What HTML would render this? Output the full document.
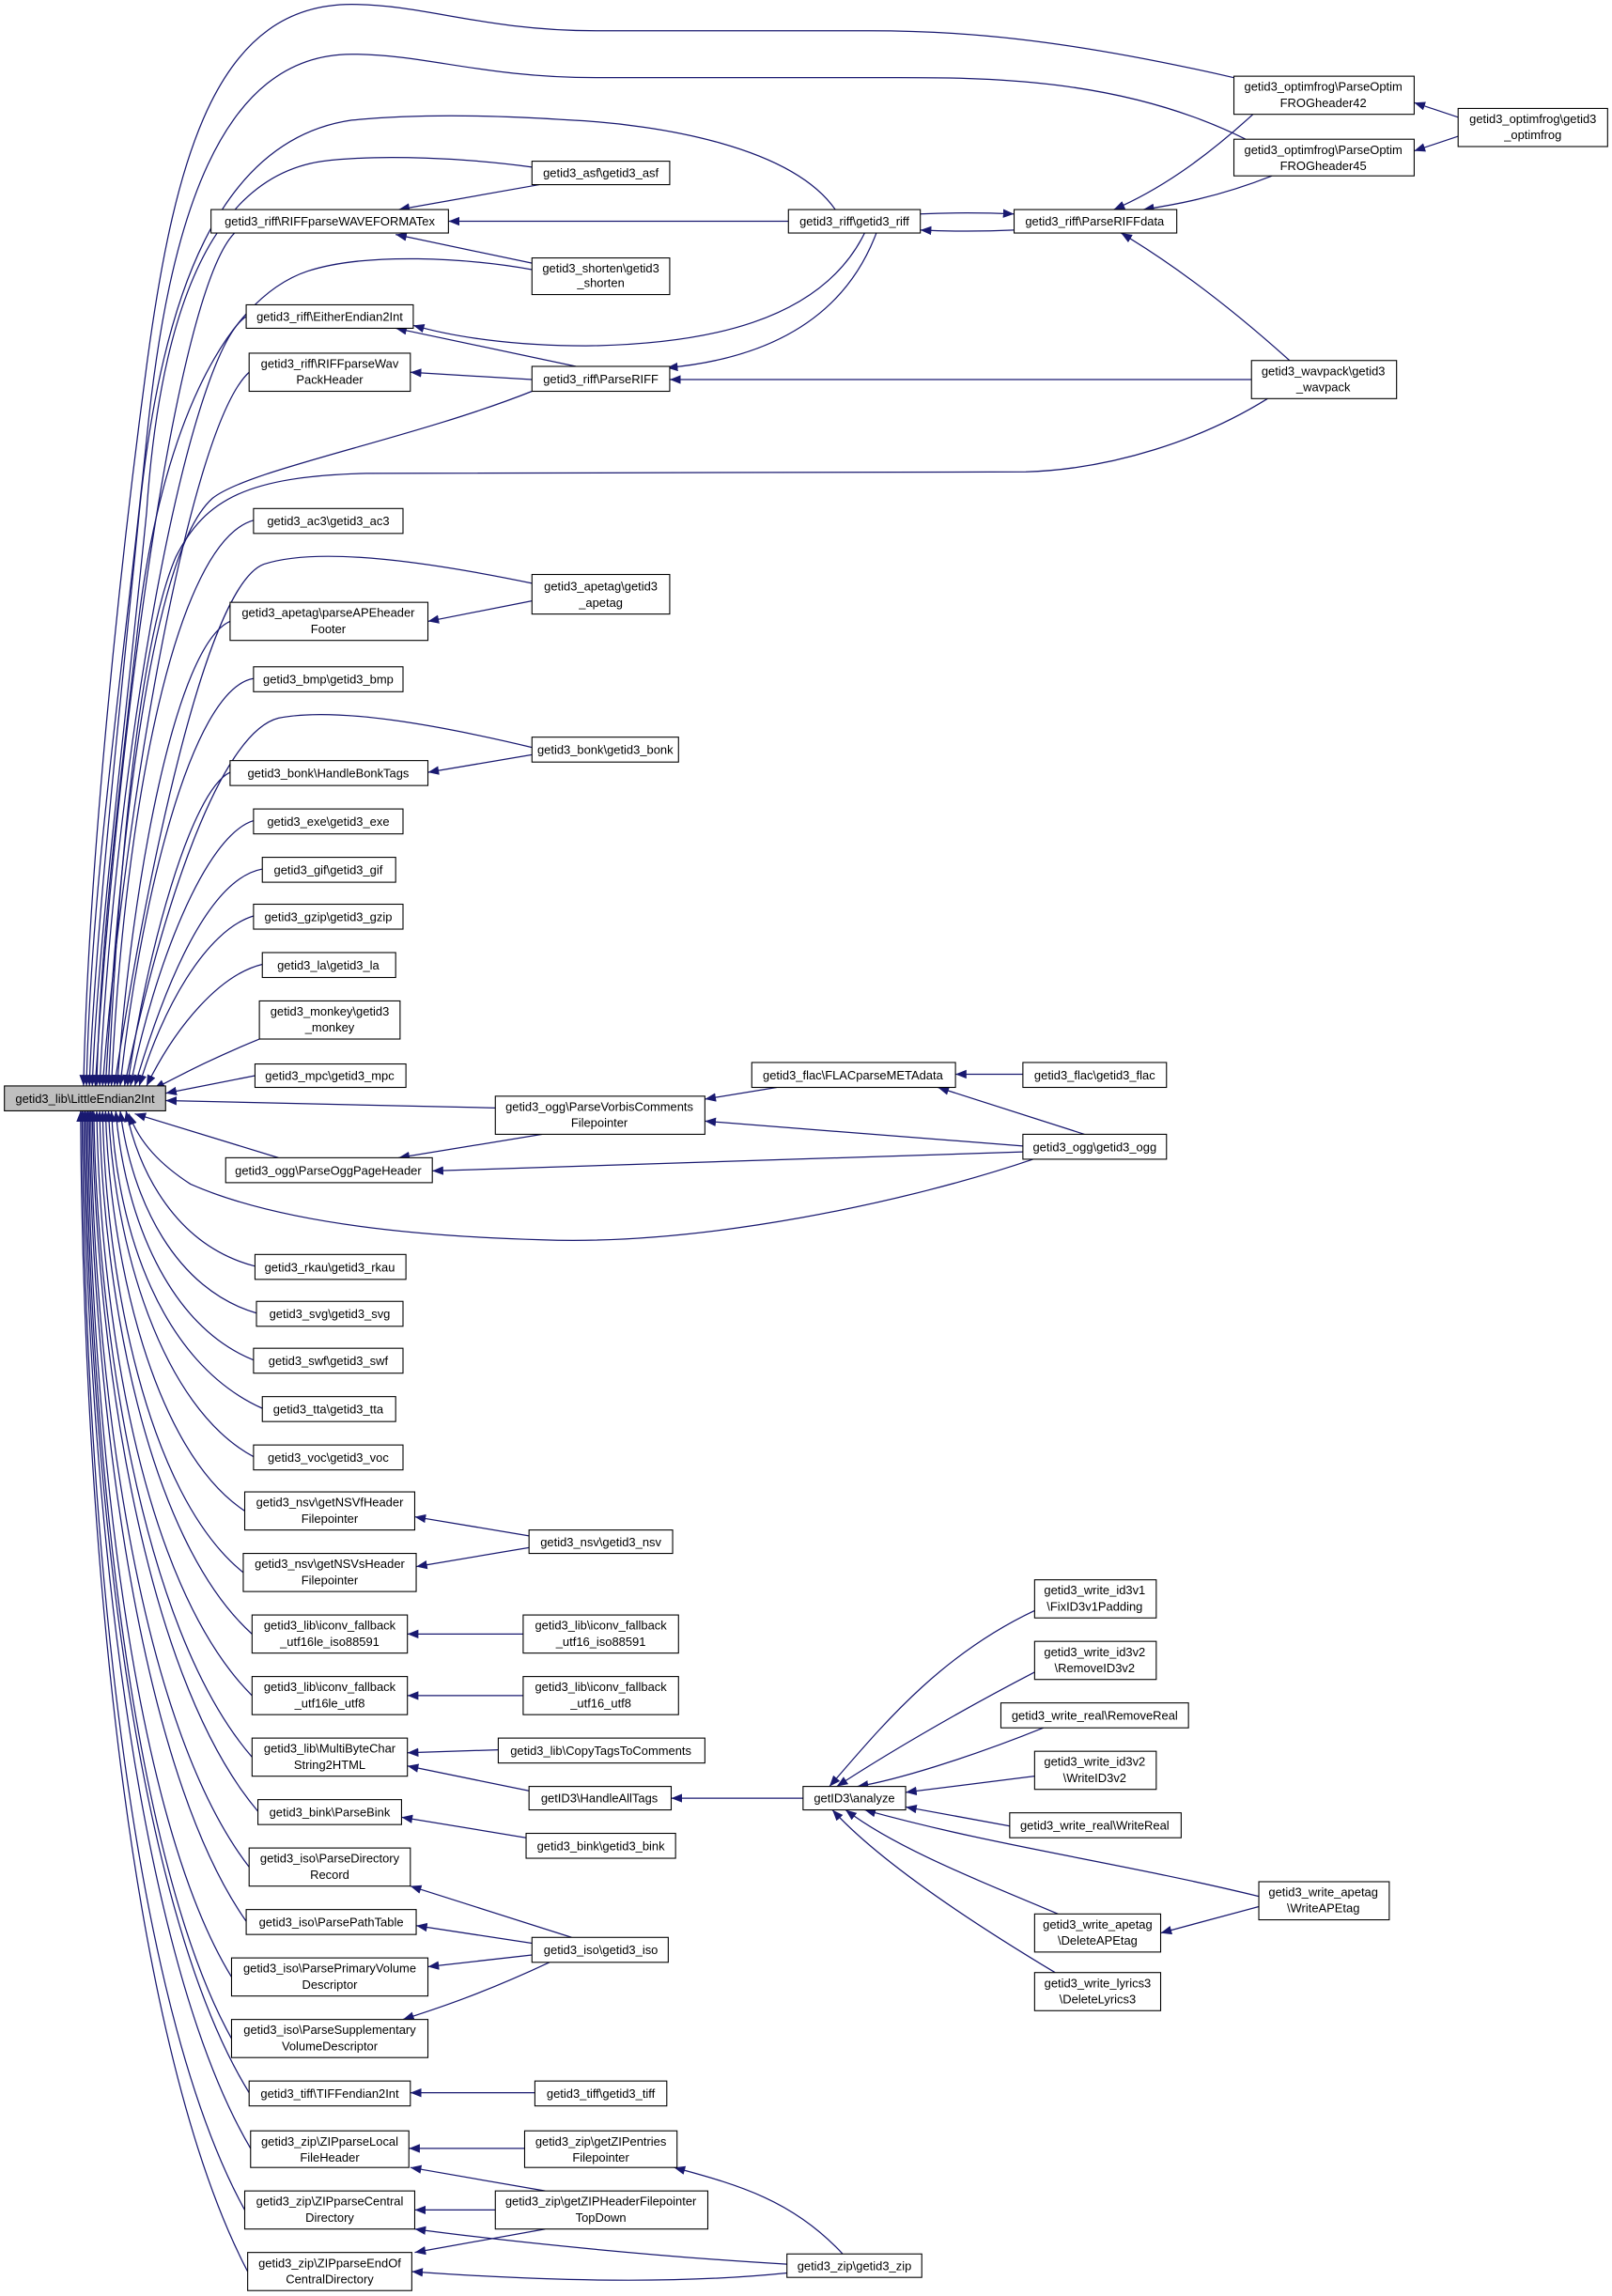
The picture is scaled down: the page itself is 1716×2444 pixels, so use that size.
<!DOCTYPE html>
<html><head><meta charset="utf-8"><style>html,body{margin:0;padding:0;background:#fff}svg{display:block}text{font-family:"Liberation Sans",sans-serif;font-size:8.3px;fill:#000;text-anchor:middle}</style></head>
<body>
<svg width="1716" height="2444" viewBox="0 0 1100 1566.7" preserveAspectRatio="none" xmlns="http://www.w3.org/2000/svg">
<defs><marker id="a" markerUnits="userSpaceOnUse" markerWidth="8" markerHeight="7" refX="7.5" refY="3" orient="auto"><path d="M0,0 L7.5,3 L0,6 z" fill="#191970"/></marker></defs>
<g fill="none" stroke="#191970" stroke-width="0.8" marker-end="url(#a)">
<!-- to main, above -->
<path d="M842,53 C720,25 650,21 593,21 L407,21 C330,21 290,3 240,3 C150,3 120,100 100,250 C80,400 60,600 57,741"/>
<path d="M850,95 C760,50 660,53 593,53 L407,53 C330,53 290,37 240,37 C150,37 115,150 100,300 C85,450 62,600 59,741"/>
<path d="M570,143 C540,100 450,85 390,82 C330,78 280,78 240,82 C150,95 110,200 95,350 C80,500 64,650 61,741"/>
<path d="M363,114 C320,108 260,105 220,110 C150,120 110,200 100,350 C85,500 66,650 63,741"/>
<path d="M160,159 C120,200 80,500 65,741"/>
<path d="M363,184 C320,176 250,172 210,185 C150,205 110,300 95,420 C80,550 68,650 66,741"/>
<path d="M168,216 C130,240 80,500 68,741"/>
<path d="M170,254 C130,290 85,550 70,741"/>
<path d="M363,267 C280,300 170,320 145,340 C100,380 80,600 72,741"/>
<path d="M865,272 C820,300 760,320 700,322 L250,323 C170,325 140,340 120,380 C90,450 78,650 74,741"/>
<path d="M173,355 C120,370 85,550 76,741"/>
<path d="M363,398 C300,385 220,372 180,385 C140,400 100,600 78,741"/>
<path d="M157,424 C120,440 90,600 80,741"/>
<path d="M173,463 C130,470 95,620 82,741"/>
<path d="M363,510 C300,495 230,482 190,490 C150,500 110,620 85,741"/>
<path d="M157,527 C130,540 100,650 87,741"/>
<path d="M173,560 C140,570 105,660 89,741"/>
<path d="M179,593 C140,600 110,680 92,741"/>
<path d="M173,625 C140,635 110,690 95,741"/>
<path d="M179,658 C150,665 120,700 100,741"/>
<path d="M177,709 C150,720 130,730 105,743"/>
<path d="M174,734 L113,746"/>
<!-- to main, below -->
<path d="M338,756 L113,751"/>
<path d="M190,790 L92,760"/>
<path d="M705,791 C620,820 480,850 370,846 C260,843 180,830 130,808 C110,795 95,780 88,760"/>
<path d="M174,864 C120,850 95,800 86,758"/>
<path d="M175,896 C120,880 90,820 82,758"/>
<path d="M173,928 C115,905 85,830 79,758"/>
<path d="M179,961 C110,930 80,840 76,758"/>
<path d="M173,994 C110,960 78,850 74,758"/>
<path d="M167,1031 C105,990 75,860 72,758"/>
<path d="M166,1073 C100,1020 72,870 70,758"/>
<path d="M172,1115 C100,1050 70,880 68,758"/>
<path d="M172,1157 C95,1080 68,890 66,758"/>
<path d="M172,1199 C95,1110 66,900 64,758"/>
<path d="M176,1236 C95,1140 65,910 63,758"/>
<path d="M170,1274 C90,1170 63,920 62,758"/>
<path d="M168,1311 C90,1200 62,930 61,758"/>
<path d="M158,1349 C85,1230 61,940 60,758"/>
<path d="M158,1391 C85,1260 60,950 59,758"/>
<path d="M170,1428 C85,1290 59,960 58,758"/>
<path d="M171,1466 C85,1320 58,970 57,758"/>
<path d="M167,1508 C80,1350 57,980 56,758"/>
<path d="M169,1550 C80,1380 56,990 55,758"/>
<!-- other -->
<path d="M368,126 L272,143"/>
<path d="M538,151 L306,151"/>
<path d="M365,180 L270,160"/>
<path d="M590,159 C560,220 480,235 400,236 C350,236 310,230 282,222"/>
<path d="M393,250 L270,224"/>
<path d="M363,259 L280,254"/>
<path d="M598,159 C575,220 520,245 455,251"/>
<path d="M692,157 C670,158 650,158 628,157"/>
<path d="M628,146 C650,145 670,145 692,146"/>
<path d="M855,78 C820,110 790,130 760,143"/>
<path d="M868,120 C830,135 800,140 780,143"/>
<path d="M880,246 C840,210 800,180 765,159"/>
<path d="M854,259 L457,259"/>
<path d="M995,80 L965,70"/>
<path d="M995,93 L965,103"/>
<path d="M363,410 L292,424"/>
<path d="M363,515 L292,527"/>
<path d="M698,733 L652,733"/>
<path d="M740,774 L640,742"/>
<path d="M530,742 L481,750"/>
<path d="M698,782 L481,765"/>
<path d="M370,774 L272,790"/>
<path d="M698,786 L295,799"/>
<path d="M361,1048 L283,1035"/>
<path d="M361,1056 L284,1069"/>
<path d="M357,1115 L278,1115"/>
<path d="M357,1157 L278,1157"/>
<path d="M340,1194 L278,1196"/>
<path d="M361,1222 L278,1205"/>
<path d="M548,1227 L458,1227"/>
<path d="M359,1254 L274,1240"/>
<path d="M706,1099 C640,1130 600,1180 566,1219"/>
<path d="M706,1141 C650,1170 600,1200 571,1219"/>
<path d="M712,1179 C660,1200 610,1215 585,1219"/>
<path d="M706,1212 L618,1223"/>
<path d="M689,1246 L618,1233"/>
<path d="M859,1294 C760,1270 680,1260 590,1235"/>
<path d="M722,1306 C660,1280 610,1260 577,1235"/>
<path d="M720,1346 C660,1310 600,1270 568,1235"/>
<path d="M859,1301 L792,1319"/>
<path d="M390,1322 L280,1287"/>
<path d="M363,1326 L284,1314"/>
<path d="M363,1334 L292,1342"/>
<path d="M375,1339 C330,1360 300,1370 275,1378"/>
<path d="M365,1428 L280,1428"/>
<path d="M358,1466 L279,1466"/>
<path d="M372,1495 L280,1479"/>
<path d="M338,1508 L283,1508"/>
<path d="M537,1545 C450,1540 350,1530 283,1521"/>
<path d="M372,1521 L283,1537"/>
<path d="M537,1551 C450,1560 350,1555 281,1550"/>
<path d="M575,1538 C540,1500 500,1490 460,1479"/>
</g>
<g fill="#fff" stroke="#000" stroke-width="0.7">
<rect x="3" y="741" width="110" height="17" fill="#bfbfbf"/>
<rect x="144" y="143" width="162" height="16"/>
<rect x="363" y="110" width="94" height="16"/>
<rect x="363" y="176" width="94" height="25"/>
<rect x="538" y="143" width="90" height="16"/>
<rect x="692" y="143" width="111" height="16"/>
<rect x="842" y="52" width="123" height="26"/>
<rect x="842" y="95" width="123" height="25"/>
<rect x="995" y="74" width="102" height="26"/>
<rect x="168" y="208" width="114" height="16"/>
<rect x="170" y="241" width="110" height="26"/>
<rect x="363" y="250" width="94" height="17"/>
<rect x="854" y="246" width="99" height="26"/>
<rect x="173" y="347" width="102" height="17"/>
<rect x="363" y="392" width="94" height="27"/>
<rect x="157" y="411" width="135" height="26"/>
<rect x="173" y="455" width="102" height="17"/>
<rect x="363" y="503" width="100" height="17"/>
<rect x="157" y="519" width="135" height="17"/>
<rect x="173" y="552" width="102" height="17"/>
<rect x="179" y="585" width="91" height="17"/>
<rect x="173" y="617" width="102" height="17"/>
<rect x="179" y="650" width="91" height="17"/>
<rect x="177" y="683" width="96" height="26"/>
<rect x="174" y="726" width="103" height="16"/>
<rect x="338" y="748" width="143" height="26"/>
<rect x="513" y="725" width="139" height="17"/>
<rect x="698" y="725" width="98" height="17"/>
<rect x="698" y="774" width="98" height="17"/>
<rect x="154" y="790" width="141" height="17"/>
<rect x="174" y="856" width="103" height="17"/>
<rect x="175" y="888" width="100" height="17"/>
<rect x="173" y="920" width="102" height="17"/>
<rect x="179" y="953" width="91" height="17"/>
<rect x="173" y="986" width="102" height="17"/>
<rect x="167" y="1018" width="116" height="26"/>
<rect x="361" y="1044" width="98" height="16"/>
<rect x="166" y="1060" width="118" height="26"/>
<rect x="172" y="1102" width="106" height="26"/>
<rect x="357" y="1102" width="106" height="26"/>
<rect x="172" y="1144" width="106" height="26"/>
<rect x="357" y="1144" width="106" height="26"/>
<rect x="172" y="1186" width="106" height="26"/>
<rect x="340" y="1186" width="141" height="17"/>
<rect x="361" y="1219" width="97" height="16"/>
<rect x="548" y="1219" width="70" height="16"/>
<rect x="176" y="1228" width="98" height="17"/>
<rect x="359" y="1251" width="102" height="17"/>
<rect x="170" y="1261" width="110" height="26"/>
<rect x="706" y="1078" width="83" height="26"/>
<rect x="706" y="1120" width="83" height="26"/>
<rect x="683" y="1162" width="128" height="17"/>
<rect x="706" y="1195" width="83" height="26"/>
<rect x="689" y="1237" width="117" height="17"/>
<rect x="859" y="1284" width="89" height="26"/>
<rect x="706" y="1306" width="86" height="26"/>
<rect x="706" y="1346" width="86" height="26"/>
<rect x="168" y="1303" width="116" height="17"/>
<rect x="363" y="1322" width="93" height="17"/>
<rect x="158" y="1336" width="134" height="26"/>
<rect x="158" y="1378" width="134" height="26"/>
<rect x="170" y="1420" width="110" height="17"/>
<rect x="365" y="1420" width="90" height="17"/>
<rect x="171" y="1454" width="108" height="25"/>
<rect x="358" y="1454" width="104" height="25"/>
<rect x="167" y="1495" width="116" height="26"/>
<rect x="338" y="1495" width="145" height="26"/>
<rect x="169" y="1537" width="112" height="26"/>
<rect x="537" y="1538" width="92" height="16"/>
</g>
<g>
<text x="58" y="752.5">getid3_lib\LittleEndian2Int</text>
<text x="225" y="154">getid3_riff\RIFFparseWAVEFORMATex</text>
<text x="410" y="121">getid3_asf\getid3_asf</text>
<text x="410" y="186">getid3_shorten\getid3</text><text x="410" y="196">_shorten</text>
<text x="583" y="154">getid3_riff\getid3_riff</text>
<text x="747" y="154">getid3_riff\ParseRIFFdata</text>
<text x="903" y="62">getid3_optimfrog\ParseOptim</text><text x="903" y="73">FROGheader42</text>
<text x="903" y="105">getid3_optimfrog\ParseOptim</text><text x="903" y="116">FROGheader45</text>
<text x="1046" y="84">getid3_optimfrog\getid3</text><text x="1046" y="95">_optimfrog</text>
<text x="225" y="219">getid3_riff\EitherEndian2Int</text>
<text x="225" y="251">getid3_riff\RIFFparseWav</text><text x="225" y="262">PackHeader</text>
<text x="410" y="261.5">getid3_riff\ParseRIFF</text>
<text x="903" y="256">getid3_wavpack\getid3</text><text x="903" y="267">_wavpack</text>
<text x="224" y="358.5">getid3_ac3\getid3_ac3</text>
<text x="410" y="403">getid3_apetag\getid3</text><text x="410" y="414">_apetag</text>
<text x="224" y="421">getid3_apetag\parseAPEheader</text><text x="224" y="432">Footer</text>
<text x="224" y="466.5">getid3_bmp\getid3_bmp</text>
<text x="413" y="514.5">getid3_bonk\getid3_bonk</text>
<text x="224" y="530.5">getid3_bonk\HandleBonkTags</text>
<text x="224" y="563.5">getid3_exe\getid3_exe</text>
<text x="224" y="596.5">getid3_gif\getid3_gif</text>
<text x="224" y="628.5">getid3_gzip\getid3_gzip</text>
<text x="224" y="661.5">getid3_la\getid3_la</text>
<text x="225" y="693">getid3_monkey\getid3</text><text x="225" y="704">_monkey</text>
<text x="225" y="737">getid3_mpc\getid3_mpc</text>
<text x="409" y="758">getid3_ogg\ParseVorbisComments</text><text x="409" y="769">Filepointer</text>
<text x="582" y="736.5">getid3_flac\FLACparseMETAdata</text>
<text x="747" y="736.5">getid3_flac\getid3_flac</text>
<text x="747" y="785.5">getid3_ogg\getid3_ogg</text>
<text x="224" y="801.5">getid3_ogg\ParseOggPageHeader</text>
<text x="225" y="867.5">getid3_rkau\getid3_rkau</text>
<text x="225" y="899.5">getid3_svg\getid3_svg</text>
<text x="224" y="931.5">getid3_swf\getid3_swf</text>
<text x="224" y="964.5">getid3_tta\getid3_tta</text>
<text x="224" y="997.5">getid3_voc\getid3_voc</text>
<text x="225" y="1028">getid3_nsv\getNSVfHeader</text><text x="225" y="1039">Filepointer</text>
<text x="410" y="1055">getid3_nsv\getid3_nsv</text>
<text x="225" y="1070">getid3_nsv\getNSVsHeader</text><text x="225" y="1081">Filepointer</text>
<text x="225" y="1112">getid3_lib\iconv_fallback</text><text x="225" y="1123">_utf16le_iso88591</text>
<text x="410" y="1112">getid3_lib\iconv_fallback</text><text x="410" y="1123">_utf16_iso88591</text>
<text x="225" y="1154">getid3_lib\iconv_fallback</text><text x="225" y="1165">_utf16le_utf8</text>
<text x="410" y="1154">getid3_lib\iconv_fallback</text><text x="410" y="1165">_utf16_utf8</text>
<text x="225" y="1196">getid3_lib\MultiByteChar</text><text x="225" y="1207">String2HTML</text>
<text x="410" y="1197.5">getid3_lib\CopyTagsToComments</text>
<text x="409" y="1230">getID3\HandleAllTags</text>
<text x="583" y="1230">getID3\analyze</text>
<text x="225" y="1239.5">getid3_bink\ParseBink</text>
<text x="410" y="1262.5">getid3_bink\getid3_bink</text>
<text x="225" y="1271">getid3_iso\ParseDirectory</text><text x="225" y="1282">Record</text>
<text x="747" y="1088">getid3_write_id3v1</text><text x="747" y="1099">\FixID3v1Padding</text>
<text x="747" y="1130">getid3_write_id3v2</text><text x="747" y="1141">\RemoveID3v2</text>
<text x="747" y="1173.5">getid3_write_real\RemoveReal</text>
<text x="747" y="1205">getid3_write_id3v2</text><text x="747" y="1216">\WriteID3v2</text>
<text x="747" y="1248.5">getid3_write_real\WriteReal</text>
<text x="903" y="1294">getid3_write_apetag</text><text x="903" y="1305">\WriteAPEtag</text>
<text x="749" y="1316">getid3_write_apetag</text><text x="749" y="1327">\DeleteAPEtag</text>
<text x="749" y="1356">getid3_write_lyrics3</text><text x="749" y="1367">\DeleteLyrics3</text>
<text x="226" y="1314.5">getid3_iso\ParsePathTable</text>
<text x="410" y="1333.5">getid3_iso\getid3_iso</text>
<text x="225" y="1346">getid3_iso\ParsePrimaryVolume</text><text x="225" y="1357">Descriptor</text>
<text x="225" y="1388">getid3_iso\ParseSupplementary</text><text x="225" y="1399">VolumeDescriptor</text>
<text x="225" y="1431.5">getid3_tiff\TIFFendian2Int</text>
<text x="410" y="1431.5">getid3_tiff\getid3_tiff</text>
<text x="225" y="1464">getid3_zip\ZIPparseLocal</text><text x="225" y="1475">FileHeader</text>
<text x="410" y="1464">getid3_zip\getZIPentries</text><text x="410" y="1475">Filepointer</text>
<text x="225" y="1505">getid3_zip\ZIPparseCentral</text><text x="225" y="1516">Directory</text>
<text x="410" y="1505">getid3_zip\getZIPHeaderFilepointer</text><text x="410" y="1516">TopDown</text>
<text x="225" y="1547">getid3_zip\ZIPparseEndOf</text><text x="225" y="1558">CentralDirectory</text>
<text x="583" y="1549">getid3_zip\getid3_zip</text>
</g>
</svg>
</body></html>
